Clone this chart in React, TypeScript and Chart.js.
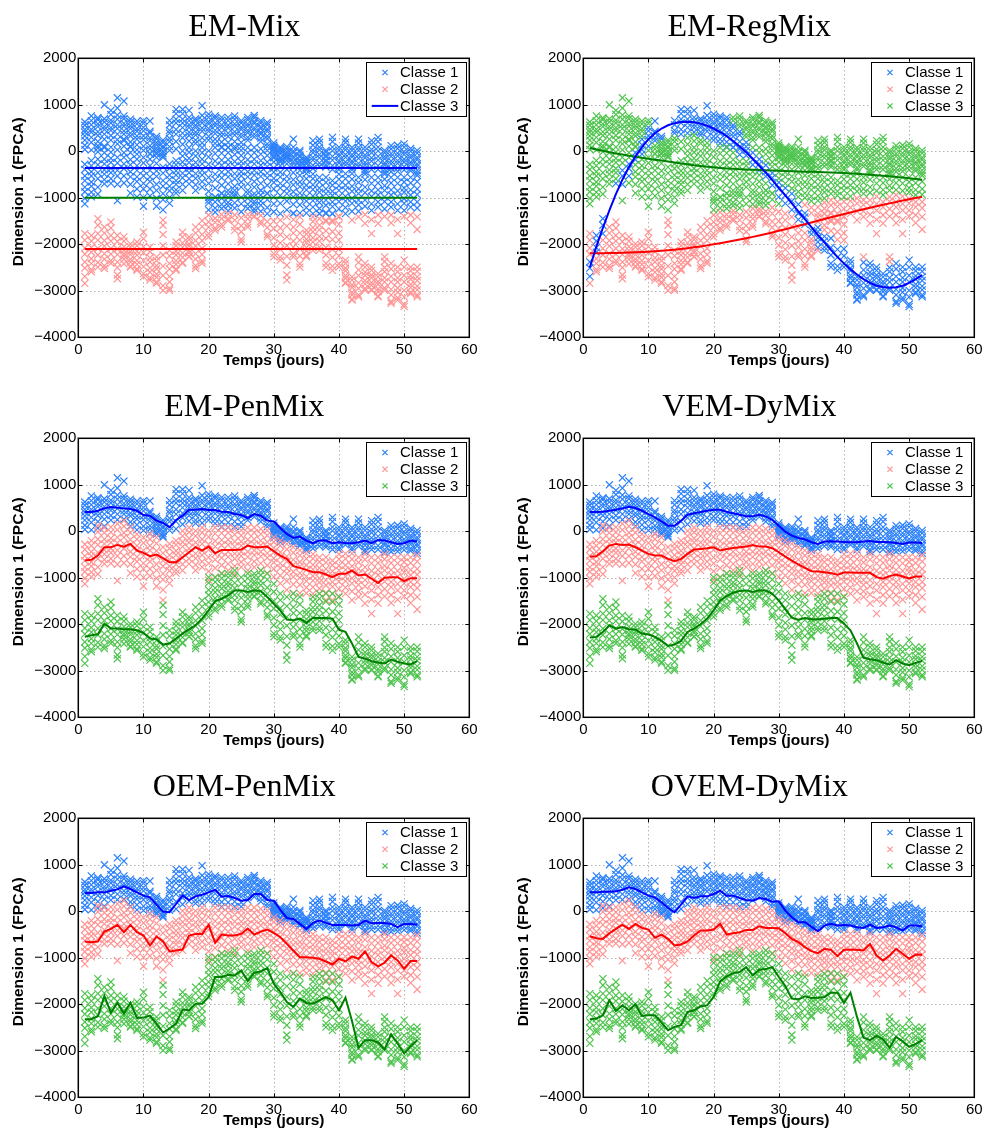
import React, { useEffect, useRef } from "react";
import { Chart, registerables } from "chart.js";

Chart.register(...registerables);

// ---------------- data ----------------
const DAYS = [1, 2, 3, 4, 5, 6, 7, 8, 9, 10, 11, 12, 13, 14, 15, 16, 17, 18, 19, 20, 21, 22, 23, 24, 25, 26, 27, 28, 29, 30, 31, 32, 33, 34, 35, 36, 37, 38, 39, 40, 41, 42, 43, 44, 45, 46, 47, 48, 49, 50, 51, 52];
const X_TICKS = [0, 10, 20, 30, 40, 50, 60];
const Y_TICKS = [-4000, -3000, -2000, -1000, 0, 1000, 2000];

// observations per day, upper group
const CLUSTER_TOP = [
  [630, 560, 470, 410, 330, 240, 130, 40], [760, 660, 570, 470, 410, 300, 190, 30], [720, 680, 590, 530, 420, 340, 210, 70],
  [1000, 700, 630, 530, 470, 370, 260, 110], [880, 790, 670, 610, 510, 450, 340, 240], [1150, 930, 780, 690, 570, 490, 370, 250],
  [1080, 760, 700, 600, 540, 440, 370, 260], [690, 630, 550, 490, 390, 330, 200, 110], [650, 590, 490, 430, 330, 260, 140, 30],
  [660, 600, 510, 440, 330, 250, 110, 20], [650, 430, 390, 290, 230, 120, 50, -50], [320, 270, 190, 140, 70, 20, -30, -60],
  [240, 190, 110, 70, 0, -50, -100, -130], [660, 570, 450, 390, 280, 210, 100, 20], [900, 810, 690, 610, 470, 370, 210, 50],
  [900, 810, 690, 610, 510, 390, 290, 150], [880, 730, 660, 570, 510, 410, 340, 220], [700, 650, 560, 510, 410, 350, 240, 170],
  [980, 770, 670, 610, 500, 430, 290, 180], [800, 730, 640, 590, 490, 430, 320, 240], [760, 710, 610, 550, 450, 380, 260, 170],
  [730, 670, 570, 510, 400, 330, 200, 100], [730, 660, 560, 500, 390, 320, 190, 90], [760, 690, 590, 530, 420, 350, 210, 100],
  [660, 610, 520, 470, 370, 310, 190, 100], [730, 680, 590, 540, 450, 400, 300, 240], [770, 720, 640, 600, 510, 460, 370, 310],
  [660, 610, 530, 490, 410, 370, 280, 210], [620, 570, 480, 430, 330, 270, 160, 100], [180, 130, 50, 10, -40, -90, -140, 90],
  [90, 50, -20, -60, -130, -160, -230, 20], [100, 50, -10, -50, -120, -150, -200, -90], [260, 90, 10, -30, -110, -150, -220, -270],
  [20, -20, -90, -120, -190, -220, -280, -310], [-130, -170, -240, -270, -340, -370, -410, -200], [230, 130, 30, -30, -130, -190, -300, -370],
  [260, 190, 90, 30, -70, -140, -250, -320], [20, -20, -90, -120, -190, -220, -290, -340], [300, 210, 90, 10, -110, -190, -310, -390],
  [90, 30, -60, -110, -200, -250, -340, -390], [260, 190, 90, 30, -70, -130, -230, -290], [80, 20, -70, -120, -210, -260, -350, -400],
  [260, 180, 80, 20, -80, -150, -260, -320], [90, 20, -80, -140, -240, -300, -390, -440], [230, 150, 40, -30, -140, -210, -320, -390],
  [300, 210, 90, 10, -110, -190, -310, -390], [20, -30, -110, -160, -250, -300, -390, -450], [120, 50, -50, -110, -210, -270, -370, -440],
  [130, 60, -40, -100, -200, -260, -360, -430], [160, 90, -10, -70, -170, -230, -330, -400], [60, 0, -90, -140, -230, -280, -370, -420],
  [20, -40, -130, -180, -270, -320, -410, -470],
];

// observations per day, middle group
const CLUSTER_MID = [
  [-280, -390, -530, -630, -770, -870, -1010, -1130], [-200, -310, -440, -530, -660, -750, -880, -980], [120, -10, -170, -290, -460, -590, -770, -920],
  [80, -30, -170, -270, -400, -490, -610, -700], [90, -20, -150, -240, -370, -460, -590, -690], [160, 30, -130, -250, -410, -530, -710, -1060],
  [230, 110, -30, -130, -270, -370, -530, -680], [90, -30, -180, -290, -440, -550, -710, -900], [-60, -170, -310, -410, -550, -650, -810, -980],
  [-130, -250, -410, -530, -690, -810, -990, -1180], [-60, -170, -310, -410, -550, -650, -810, -960], [-130, -260, -420, -540, -710, -840, -1010, -1180],
  [-340, -470, -630, -750, -910, -1040, -1260, -1480], [-270, -370, -510, -610, -750, -850, -990, -1120], [-200, -290, -420, -510, -630, -710, -830, -900],
  [10, -100, -230, -330, -470, -570, -710, -840], [80, -20, -150, -240, -370, -460, -590, -700], [10, -100, -240, -340, -480, -580, -720, -840],
  [80, -30, -170, -270, -410, -510, -650, -770], [10, -120, -280, -400, -560, -690, -860, -1050], [80, -50, -210, -330, -490, -610, -790, -980],
  [80, -40, -190, -300, -450, -570, -730, -900], [80, -30, -180, -290, -440, -550, -700, -840], [50, -70, -220, -330, -480, -590, -750, -910],
  [20, -90, -220, -310, -440, -530, -660, -770], [80, -30, -180, -290, -440, -550, -700, -840], [80, -30, -170, -270, -410, -510, -650, -770],
  [50, -60, -200, -300, -440, -540, -690, -840], [20, -90, -230, -330, -470, -570, -730, -900], [-130, -230, -360, -450, -580, -670, -810, -980],
  [-200, -310, -450, -550, -690, -790, -950, -1120], [-270, -390, -540, -650, -800, -910, -1070, -1260], [-340, -460, -610, -720, -870, -980, -1140, -1330],
  [-410, -520, -660, -760, -900, -1000, -1150, -1330], [-480, -590, -730, -830, -970, -1070, -1210, -1330], [-490, -590, -720, -820, -960, -1060, -1200, -1340],
  [-560, -660, -790, -880, -1010, -1100, -1230, -1340], [-560, -670, -810, -910, -1050, -1160, -1320, -1480], [-630, -730, -860, -950, -1090, -1190, -1340, -1480],
  [-490, -600, -740, -840, -980, -1080, -1240, -1400], [-480, -590, -730, -830, -970, -1070, -1210, -1340], [-480, -600, -750, -860, -1010, -1120, -1290, -1480],
  [-560, -670, -810, -910, -1050, -1150, -1290, -1410], [-490, -610, -770, -890, -1050, -1180, -1360, -1550], [-560, -690, -850, -970, -1130, -1270, -1470, -1770],
  [-560, -680, -830, -940, -1090, -1200, -1370, -1550], [-490, -600, -740, -840, -980, -1080, -1240, -1400], [-560, -680, -830, -940, -1090, -1200, -1370, -1540],
  [-560, -690, -850, -970, -1130, -1270, -1470, -1770], [-560, -660, -790, -880, -1020, -1120, -1270, -1400], [-560, -680, -830, -940, -1090, -1200, -1370, -1540],
  [-520, -650, -810, -930, -1090, -1220, -1410, -1680],
];

// observations per day, lower group
const CLUSTER_LOW = [
  [-1770, -1910, -2080, -2210, -2380, -2510, -2690, -2840], [-1810, -1930, -2070, -2170, -2310, -2410, -2540, -2590], [-1450, -1590, -1770, -1910, -2090, -2230, -2390, -2490],
  [-1630, -1760, -1920, -2040, -2200, -2320, -2460, -2520], [-1520, -1650, -1810, -1930, -2090, -2210, -2350, -2410], [-1810, -1940, -2100, -2220, -2380, -2500, -2660, -2740],
  [-1840, -1930, -2050, -2130, -2250, -2320, -2420, -2200], [-1990, -2060, -2160, -2220, -2320, -2380, -2470, -2490], [-1950, -2030, -2150, -2230, -2350, -2430, -2530, -2560],
  [-1740, -1880, -2050, -2180, -2350, -2480, -2630, -2700], [-2060, -2160, -2290, -2380, -2510, -2600, -2720, -2770], [-2270, -2350, -2460, -2530, -2640, -2710, -2810, -2840],
  [-1590, -1790, -2030, -2230, -2470, -2670, -2890, -2990], [-2130, -2250, -2410, -2530, -2690, -2810, -2950, -2990], [-1950, -2030, -2150, -2230, -2350, -2430, -2530, -2560],
  [-1740, -1840, -1970, -2060, -2190, -2280, -2390, -2410], [-1840, -1900, -1990, -2040, -2130, -2180, -2260, -2270], [-1630, -1760, -1920, -2040, -2200, -2320, -2460, -2520],
  [-1490, -1620, -1790, -1920, -2090, -2220, -2360, -2410], [-990, -1110, -1260, -1370, -1520, -1630, -1770, -1840], [-990, -1090, -1220, -1310, -1440, -1530, -1650, -1700],
  [-910, -1010, -1140, -1230, -1360, -1450, -1570, -1630], [-910, -990, -1100, -1170, -1280, -1350, -1450, -1490], [-840, -960, -1110, -1220, -1370, -1480, -1620, -1700],
  [-990, -1130, -1300, -1430, -1600, -1730, -1890, -1950], [-910, -1010, -1140, -1230, -1360, -1450, -1570, -1630], [-910, -980, -1080, -1140, -1240, -1300, -1390, -1410],
  [-840, -940, -1070, -1160, -1290, -1380, -1510, -1560], [-910, -1040, -1210, -1340, -1510, -1640, -1790, -1840], [-1130, -1300, -1500, -1660, -1860, -2020, -2200, -2270],
  [-1340, -1480, -1650, -1790, -1970, -2110, -2270, -2340], [-1410, -1610, -1840, -2030, -2260, -2450, -2660, -2770], [-1340, -1470, -1630, -1760, -1930, -2060, -2210, -2270],
  [-1410, -1570, -1760, -1910, -2100, -2250, -2420, -2490], [-1700, -1780, -1890, -1960, -2070, -2140, -2240, -2270], [-1410, -1510, -1640, -1730, -1860, -1950, -2070, -2130],
  [-1340, -1450, -1590, -1690, -1830, -1930, -2060, -2130], [-1340, -1510, -1710, -1870, -2070, -2230, -2410, -2490], [-1340, -1520, -1730, -1900, -2110, -2280, -2470, -2560],
  [-1410, -1570, -1760, -1910, -2100, -2250, -2420, -2490], [-2340, -2410, -2510, -2570, -2670, -2730, -2820, -2840], [-2700, -2770, -2870, -2930, -3030, -3090, -3180, -3200],
  [-2270, -2390, -2550, -2670, -2830, -2950, -3090, -3130], [-2410, -2490, -2600, -2670, -2780, -2850, -2950, -2990], [-2490, -2560, -2660, -2720, -2820, -2880, -2970, -2990],
  [-2630, -2700, -2800, -2860, -2960, -3020, -3110, -3130], [-2270, -2370, -2500, -2590, -2720, -2810, -2940, -2990], [-2410, -2530, -2690, -2810, -2970, -3090, -3230, -3270],
  [-2490, -2590, -2720, -2810, -2940, -3030, -3150, -3200], [-2340, -2490, -2670, -2810, -2990, -3130, -3290, -3340], [-2490, -2570, -2680, -2750, -2860, -2930, -3030, -3060],
  [-2490, -2580, -2700, -2780, -2900, -2980, -3090, -3130],
];

// EM-Mix: constant class means (blue, green, red) and the split seen between the two coloured groups
const EM_MIX_LEVELS = [-360, -1000, -2100];
const EM_MIX_SPLIT = -1350;

// EM-RegMix: polynomial regression means
const REGMIX_BLUE = [-2500, -2050, -1650, -1270, -920, -610, -340, -110, 90, 260, 390, 490, 560, 605, 630, 635, 625, 595, 550, 490, 415, 325, 220, 105, -20, -160, -310, -460, -620, -780, -950, -1120, -1290, -1460, -1630, -1800, -1960, -2120, -2270, -2410, -2540, -2650, -2750, -2830, -2890, -2920, -2935, -2925, -2890, -2830, -2750, -2660];
const REGMIX_RED = [-2190, -2190, -2190, -2188, -2185, -2180, -2175, -2170, -2165, -2158, -2150, -2140, -2128, -2115, -2100, -2083, -2065, -2045, -2023, -2000, -1976, -1951, -1925, -1898, -1870, -1840, -1810, -1778, -1745, -1710, -1675, -1640, -1603, -1567, -1530, -1493, -1456, -1420, -1385, -1350, -1315, -1280, -1246, -1213, -1180, -1150, -1120, -1090, -1060, -1030, -1005, -980];
const REGMIX_GREEN = [70, 40, 10, -20, -45, -70, -95, -115, -140, -160, -180, -200, -220, -240, -260, -280, -300, -315, -330, -345, -358, -368, -377, -385, -392, -398, -404, -410, -415, -420, -425, -430, -434, -438, -442, -446, -450, -455, -460, -465, -475, -483, -492, -502, -513, -525, -538, -551, -565, -580, -595, -610];
const REGMIX_SIGMA = [170, 420, 500];
const REGMIX_PRIOR = [0.25, 0.3, 0.45];

// EM-PenMix
const PENMIX_BLUE = [414, 414, 443, 493, 521, 507, 493, 479, 443, 350, 336, 229, 179, 86, 243, 336, 464, 464, 479, 457, 457, 421, 414, 371, 350, 286, 371, 336, 229, 214, 71, -57, -143, -114, -200, -257, -200, -200, -257, -236, -250, -257, -236, -200, -257, -186, -200, -236, -271, -257, -200, -221];
const PENMIX_RED = [-629, -614, -521, -343, -343, -293, -329, -271, -414, -464, -536, -500, -579, -664, -664, -557, -450, -343, -414, -329, -471, -400, -400, -400, -393, -307, -343, -343, -329, -429, -521, -593, -750, -786, -829, -879, -879, -929, -986, -914, -914, -843, -950, -929, -1021, -1114, -1000, -986, -986, -1071, -1007, -1007];
const PENMIX_GREEN = [-2271, -2236, -2214, -1986, -2093, -2093, -2107, -2107, -2129, -2186, -2307, -2321, -2436, -2414, -2307, -2200, -2107, -2021, -1879, -1700, -1500, -1450, -1379, -1271, -1271, -1307, -1271, -1286, -1414, -1557, -1700, -1900, -1914, -1879, -1971, -1857, -1864, -1864, -1879, -2114, -2164, -2414, -2700, -2736, -2793, -2821, -2843, -2757, -2807, -2843, -2864, -2793];

// VEM-DyMix
const DYMIX_BLUE = [414, 414, 421, 443, 464, 493, 529, 500, 443, 371, 300, 214, 121, 121, 229, 357, 386, 414, 443, 464, 464, 421, 386, 357, 321, 321, 357, 321, 243, 121, -7, -93, -143, -171, -236, -271, -221, -214, -221, -229, -236, -236, -221, -207, -229, -229, -236, -250, -271, -243, -243, -250];
const DYMIX_RED = [-543, -536, -429, -307, -271, -293, -286, -343, -414, -486, -521, -521, -593, -643, -593, -486, -393, -379, -364, -343, -414, -379, -357, -343, -329, -293, -329, -329, -364, -450, -543, -629, -714, -786, -857, -864, -879, -900, -936, -886, -886, -893, -893, -893, -986, -1021, -964, -929, -971, -1014, -971, -971];
const DYMIX_GREEN = [-2286, -2271, -2164, -2021, -2093, -2057, -2107, -2114, -2200, -2221, -2271, -2357, -2464, -2436, -2357, -2164, -2093, -2000, -1879, -1700, -1486, -1393, -1321, -1286, -1271, -1307, -1271, -1271, -1343, -1486, -1679, -1857, -1900, -1864, -1893, -1893, -1879, -1864, -1864, -1986, -2129, -2414, -2721, -2750, -2771, -2821, -2864, -2771, -2843, -2879, -2829, -2786];

// OEM-PenMix
const OPENMIX_BLUE = [393, 393, 407, 407, 443, 471, 536, 479, 407, 336, 300, 143, -7, -21, 157, 343, 243, 321, 357, 407, 464, 314, 329, 286, 229, 243, 371, 371, 243, 229, 29, -143, -164, -271, -379, -250, -200, -250, -293, -293, -293, -307, -293, -200, -257, -250, -250, -271, -343, -271, -271, -286];
const OPENMIX_RED = [-650, -664, -650, -436, -379, -293, -450, -293, -450, -521, -736, -543, -650, -864, -843, -821, -521, -486, -486, -293, -679, -500, -521, -521, -486, -371, -500, -436, -393, -464, -557, -700, -843, -986, -986, -1000, -1021, -1079, -1143, -1021, -1079, -971, -1021, -864, -1093, -1186, -1107, -950, -1057, -1236, -1071, -1071];
const OPENMIX_GREEN = [-2321, -2321, -2257, -1821, -2179, -1971, -2200, -1964, -2293, -2286, -2243, -2414, -2607, -2521, -2414, -2114, -2129, -1986, -1986, -1843, -1414, -1414, -1364, -1379, -1271, -1500, -1321, -1293, -1221, -1557, -1736, -1950, -2057, -1879, -1971, -1986, -1914, -1843, -1914, -2129, -1857, -2357, -2936, -2771, -2771, -2821, -2971, -2643, -2843, -3057, -2900, -2771];

// OVEM-DyMix
const OVDYMIX_BLUE = [407, 407, 421, 421, 429, 464, 514, 479, 407, 336, 300, 193, 71, -21, 143, 321, 286, 321, 321, 371, 443, 336, 336, 286, 243, 229, 286, 264, 207, 214, 14, -129, -236, -236, -329, -429, -307, -271, -307, -293, -307, -343, -357, -286, -357, -343, -307, -343, -414, -307, -307, -329];
const OVDYMIX_RED = [-536, -579, -593, -471, -379, -293, -379, -271, -357, -393, -571, -500, -593, -736, -714, -650, -521, -414, -414, -393, -271, -500, -471, -450, -400, -400, -321, -357, -357, -364, -471, -593, -664, -771, -857, -900, -807, -829, -964, -829, -829, -829, -843, -700, -950, -1057, -950, -807, -914, -1021, -929, -936];
const OVDYMIX_GREEN = [-2321, -2307, -2236, -1914, -2143, -2021, -2129, -2000, -2250, -2236, -2236, -2393, -2557, -2486, -2450, -2164, -2129, -2043, -2021, -1843, -1507, -1400, -1329, -1307, -1200, -1379, -1257, -1243, -1200, -1414, -1607, -1879, -1893, -1829, -1864, -1857, -1843, -1750, -1750, -1971, -1750, -2271, -2721, -2771, -2679, -2750, -2929, -2700, -2793, -2914, -2857, -2771];

// ---------------- styles ----------------
const BLUE_PT = "#2b80fb";
const RED_PT = "#ff9494";
const GREEN_PT = "#4fc44f";
const BLUE_LN = "#0000ff";
const RED_LN = "#ff0000";
const GREEN_LN = "#008000";
const SANS = '"Liberation Sans", Arial, Helvetica, sans-serif';
const SERIF = '"Liberation Serif", "Times New Roman", serif';
const X_TITLE = "Temps (jours)";
const Y_TITLE = "Dimension 1 (FPCA)";

type Pt = { x: number; y: number };
type Series = { label: string; kind: "points" | "line"; color: string; data: Pt[]; legend: boolean };
type Spec = { title: string; series: Series[] };

const CLUSTERS = [CLUSTER_TOP, CLUSTER_MID, CLUSTER_LOW];

function observations(): { x: number; y: number; g: number; i: number }[] {
  const out: { x: number; y: number; g: number; i: number }[] = [];
  CLUSTERS.forEach((cl, g) =>
    cl.forEach((vals, i) => vals.forEach((v) => out.push({ x: DAYS[i], y: v, g, i })))
  );
  return out;
}
const curve = (vals: number[]): Pt[] => vals.map((y, i) => ({ x: DAYS[i], y }));
const pts = (list: { x: number; y: number }[]): Pt[] => list.map((p) => ({ x: p.x, y: p.y }));
const P = (label: string, color: string, data: Pt[]): Series => ({ label, kind: "points", color, data, legend: true });
const L = (label: string, color: string, data: Pt[], legend = false): Series => ({ label, kind: "line", color, data, legend });

function emMix(): Spec {
  const obs = observations();
  const flat = (v: number): Pt[] => [{ x: DAYS[0], y: v }, { x: DAYS[DAYS.length - 1], y: v }];
  return {
    title: "EM-Mix",
    series: [
      P("Classe 1", BLUE_PT, pts(obs.filter((p) => p.y > EM_MIX_SPLIT))),
      P("Classe 2", RED_PT, pts(obs.filter((p) => p.y <= EM_MIX_SPLIT))),
      L("Classe 3", BLUE_LN, flat(EM_MIX_LEVELS[0]), true),
      L("", GREEN_LN, flat(EM_MIX_LEVELS[1])),
      L("", RED_LN, flat(EM_MIX_LEVELS[2])),
    ],
  };
}

function emRegMix(): Spec {
  const obs = observations();
  const means = [REGMIX_BLUE, REGMIX_RED, REGMIX_GREEN];
  const cls = (p: { y: number; i: number }) => {
    let best = 0;
    let bestScore = Infinity;
    for (let k = 0; k < 3; k++) {
      const z = (p.y - means[k][p.i]) / REGMIX_SIGMA[k];
      const s = 0.5 * z * z + Math.log(REGMIX_SIGMA[k]) - Math.log(REGMIX_PRIOR[k]);
      if (s < bestScore) { bestScore = s; best = k; }
    }
    return best;
  };
  const withCls = obs.map((p) => ({ ...p, k: cls(p) }));
  return {
    title: "EM-RegMix",
    series: [
      P("Classe 1", BLUE_PT, pts(withCls.filter((p) => p.k === 0))),
      P("Classe 2", RED_PT, pts(withCls.filter((p) => p.k === 1))),
      P("Classe 3", GREEN_PT, pts(withCls.filter((p) => p.k === 2))),
      L("", BLUE_LN, curve(REGMIX_BLUE)),
      L("", RED_LN, curve(REGMIX_RED)),
      L("", GREEN_LN, curve(REGMIX_GREEN)),
    ],
  };
}

function grouped(title: string, blue: number[], red: number[], green: number[]): Spec {
  const obs = observations();
  return {
    title,
    series: [
      P("Classe 1", BLUE_PT, pts(obs.filter((p) => p.g === 0))),
      P("Classe 2", RED_PT, pts(obs.filter((p) => p.g === 1))),
      P("Classe 3", GREEN_PT, pts(obs.filter((p) => p.g === 2))),
      L("", BLUE_LN, curve(blue)),
      L("", RED_LN, curve(red)),
      L("", GREEN_LN, curve(green)),
    ],
  };
}

// ---------------- drawing helpers ----------------
function makeFramePlugin(title: string, legend: Series[]) {
  return {
    id: "matlabFrame",
    beforeDatasetsDraw(chart: any) {
      const { ctx, chartArea: a, scales } = chart;
      ctx.save();
      ctx.strokeStyle = "rgba(0,0,0,0.45)";
      ctx.lineWidth = 1;
      ctx.setLineDash([1, 3]);
      ctx.beginPath();
      X_TICKS.forEach((v) => {
        const px = Math.round(scales.x.getPixelForValue(v)) + 0.5;
        ctx.moveTo(px, a.top);
        ctx.lineTo(px, a.bottom);
      });
      Y_TICKS.forEach((v) => {
        const py = Math.round(scales.y.getPixelForValue(v)) + 0.5;
        ctx.moveTo(a.left, py);
        ctx.lineTo(a.right, py);
      });
      ctx.stroke();
      ctx.restore();
    },
    afterDraw(chart: any) {
      const { ctx, chartArea: a, scales } = chart;
      ctx.save();
      // inward tick marks
      ctx.strokeStyle = "#000";
      ctx.lineWidth = 1;
      ctx.beginPath();
      X_TICKS.forEach((v) => {
        const px = Math.round(scales.x.getPixelForValue(v)) + 0.5;
        ctx.moveTo(px, a.bottom); ctx.lineTo(px, a.bottom - 4);
        ctx.moveTo(px, a.top); ctx.lineTo(px, a.top + 4);
      });
      Y_TICKS.forEach((v) => {
        const py = Math.round(scales.y.getPixelForValue(v)) + 0.5;
        ctx.moveTo(a.left, py); ctx.lineTo(a.left + 4, py);
        ctx.moveTo(a.right, py); ctx.lineTo(a.right - 4, py);
      });
      ctx.stroke();
      // axes box
      ctx.lineWidth = 1.5;
      ctx.strokeRect(a.left, a.top, a.right - a.left, a.bottom - a.top);
      // title
      ctx.fillStyle = "#000";
      ctx.font = `32px ${SERIF}`;
      ctx.textAlign = "center";
      ctx.textBaseline = "alphabetic";
      ctx.fillText(title, (a.left + a.right) / 2 - 29.5, 36);
      // y-axis title
      ctx.save();
      ctx.translate(18.5, (a.top + a.bottom) / 2 - 6);
      ctx.rotate(-Math.PI / 2);
      ctx.font = `bold 15.5px ${SANS}`;
      ctx.textAlign = "center";
      ctx.textBaseline = "middle";
      ctx.fillText(Y_TITLE, 0, 0);
      ctx.restore();
      // legend
      const bw = 100, bh = 54;
      const bx = a.right - 3.3 - bw;
      const by = a.top + 3.4;
      ctx.fillStyle = "#fff";
      ctx.fillRect(bx, by, bw, bh);
      ctx.lineWidth = 1;
      ctx.strokeStyle = "#000";
      ctx.strokeRect(Math.round(bx) + 0.5, Math.round(by) + 0.5, bw, bh);
      ctx.font = `15px ${SANS}`;
      ctx.textAlign = "left";
      ctx.textBaseline = "middle";
      legend.forEach((s, r) => {
        const cy = by + 10.8 + r * 16.7;
        ctx.strokeStyle = s.color;
        if (s.kind === "points") {
          const cx = bx + 19, h = 2.6;
          ctx.lineWidth = 1.2;
          ctx.beginPath();
          ctx.moveTo(cx - h, cy - h); ctx.lineTo(cx + h, cy + h);
          ctx.moveTo(cx - h, cy + h); ctx.lineTo(cx + h, cy - h);
          ctx.stroke();
        } else {
          ctx.lineWidth = 2;
          ctx.beginPath();
          ctx.moveTo(bx + 5.7, cy); ctx.lineTo(bx + 32.3, cy);
          ctx.stroke();
        }
        ctx.fillStyle = "#000";
        ctx.fillText(s.label, bx + 34, cy + 0.5);
      });
      ctx.restore();
    },
  };
}

function buildConfig(spec: Spec, width: number): any {
  const nPts = spec.series.filter((s) => s.kind === "points").length;
  let pIdx = 0;
  const datasets = spec.series.map((s) => {
    if (s.kind === "points") {
      const order = nPts - pIdx;
      pIdx++;
      return {
        type: "scatter",
        label: s.label,
        data: s.data,
        showLine: false,
        pointStyle: "crossRot",
        pointRadius: 5,
        pointBorderWidth: 1.2,
        borderColor: s.color,
        backgroundColor: s.color,
        order,
      };
    }
    return {
      type: "line",
      label: s.label,
      data: s.data,
      borderColor: s.color,
      borderWidth: 2,
      pointRadius: 0,
      fill: false,
      tension: 0,
      order: 0,
    };
  });
  return {
    type: "scatter",
    data: { datasets },
    plugins: [makeFramePlugin(spec.title, spec.series.filter((s) => s.legend))],
    options: {
      animation: false,
      responsive: false,
      devicePixelRatio: 1,
      events: [],
      layout: { padding: { top: 58.3, left: 0, right: width - 469.3, bottom: 1 } },
      plugins: {
        legend: { display: false },
        tooltip: { enabled: false },
        title: { display: false },
      },
      scales: {
        x: {
          type: "linear",
          min: X_TICKS[0],
          max: X_TICKS[X_TICKS.length - 1],
          afterBuildTicks: (s: any) => { s.ticks = X_TICKS.map((v) => ({ value: v })); },
          afterFit: (s: any) => { s.height = 34.7; },
          grid: { display: false, drawTicks: false },
          border: { display: false },
          ticks: { color: "#000", font: { family: SANS, size: 15 }, padding: 4, maxRotation: 0, autoSkip: false },
          title: {
            display: true,
            text: X_TITLE,
            color: "#000",
            font: { family: SANS, size: 15.5, weight: "bold" },
            padding: { top: 0, bottom: 1.5 },
          },
        },
        y: {
          type: "linear",
          min: Y_TICKS[0],
          max: Y_TICKS[Y_TICKS.length - 1],
          afterBuildTicks: (s: any) => { s.ticks = Y_TICKS.map((v) => ({ value: v })); },
          afterFit: (s: any) => { s.width = 78.3; },
          grid: { display: false, drawTicks: false },
          border: { display: false },
          ticks: {
            color: "#000",
            font: { family: SANS, size: 15 },
            padding: 2,
            autoSkip: false,
            callback: (v: any) => String(v).replace("-", "\u2212"),
          },
          title: { display: false },
        },
      },
    },
  };
}

function Panel({ spec, left, top, width, height }: { spec: Spec; left: number; top: number; width: number; height: number }) {
  const ref = useRef<HTMLCanvasElement | null>(null);
  useEffect(() => {
    if (!ref.current) return;
    const chart = new Chart(ref.current, buildConfig(spec, width));
    return () => chart.destroy();
  }, []);
  return (
    <canvas
      ref={ref}
      width={width}
      height={height}
      style={{ position: "absolute", left, top, width, height, display: "block" }}
    />
  );
}

export default function App() {
  const specs: Spec[] = [
    emMix(),
    emRegMix(),
    grouped("EM-PenMix", PENMIX_BLUE, PENMIX_RED, PENMIX_GREEN),
    grouped("VEM-DyMix", DYMIX_BLUE, DYMIX_RED, DYMIX_GREEN),
    grouped("OEM-PenMix", OPENMIX_BLUE, OPENMIX_RED, OPENMIX_GREEN),
    grouped("OVEM-DyMix", OVDYMIX_BLUE, OVDYMIX_RED, OVDYMIX_GREEN),
  ];
  return (
    <div
      style={{
        position: "fixed",
        left: 0,
        top: 0,
        width: 987,
        height: 1133,
        overflow: "hidden",
        background: "#fff",
      }}
    >
      {specs.map((spec, i) => {
        const col = i % 2;
        const row = Math.floor(i / 2);
        const width = col === 0 ? 505 : 482;
        return (
          <Panel key={spec.title} spec={spec} left={col * 505} top={row * 380} width={width} height={373} />
        );
      })}
    </div>
  );
}
